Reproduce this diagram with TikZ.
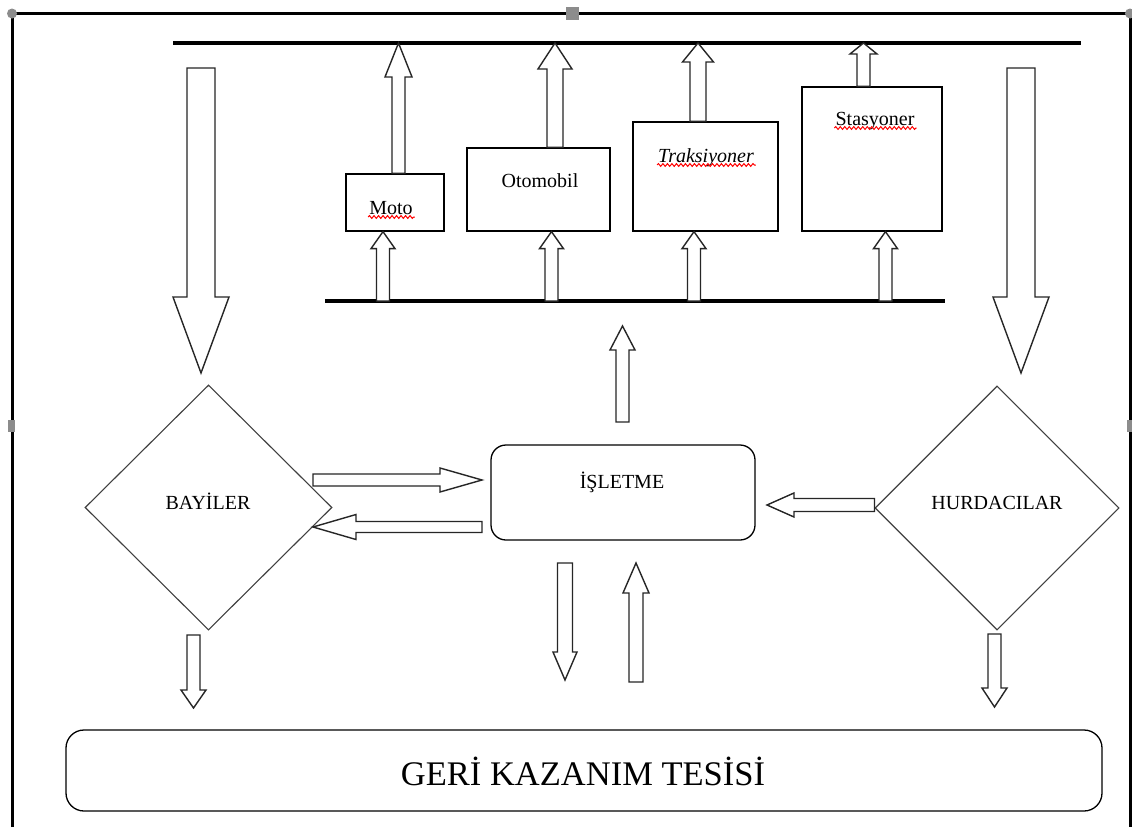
\documentclass[tikz,border=0pt]{standalone}
\usepackage{fontspec}
\setmainfont{Liberation Serif}
\usetikzlibrary{calc,shapes.geometric,decorations.pathmorphing}
\tikzset{
  frameline/.style={line width=3pt, black},
  barline/.style={line width=3.5pt, black},
  boxnode/.style={draw, rectangle, line width=1.3pt, inner sep=0pt},
  roundbox/.style={draw, rectangle, rounded corners=#1, line width=1.3pt, inner sep=0pt},
  diamondnode/.style={draw=black!75, diamond, line width=1.1pt, inner sep=0pt},
  lbl/.style={inner sep=0pt, anchor=base, font=\fontsize{20}{24}\selectfont},
  biglbl/.style={inner sep=0pt, anchor=base, font=\fontsize{34.5}{40}\selectfont},
  spell/.style={red, line width=1pt, decorate, decoration={snake, amplitude=1.4pt, segment length=4.5pt}},
  blockarrow/.style={draw=black!85, fill=white, line width=1.4pt, line join=miter},
  handle/.style={fill=black!45}
}
% #1 tail, #2 tip, #3 half shaft width, #4 half head width, #5 head length
\newcommand\blockarr[5]{%
  \coordinate (ba-h) at ($(#2)!#5!(#1)$);
  \draw[blockarrow] ($(#1)!#3!90:(#2)$) -- ($(ba-h)!#3!90:(#2)$) -- ($(ba-h)!#4!90:(#2)$) -- (#2)
     -- ($(ba-h)!#4!-90:(#2)$) -- ($(ba-h)!#3!-90:(#2)$) -- ($(#1)!#3!-90:(#2)$) -- cycle;
}
\begin{document}
\begin{tikzpicture}[x=1pt,y=-1pt]
\useasboundingbox (0,0) rectangle (1132,827);
\fill[white] (0,0) rectangle (1132,827);

% frame
\coordinate (fr-bl) at (12,827);
\coordinate (fr-tl) at (12,13.5);
\coordinate (fr-tr) at (1130,13.5);
\coordinate (fr-br) at (1130,827);
\draw[frameline] (fr-bl) -- (fr-tl) -- (fr-tr) -- (fr-br);
\fill[handle] (fr-tl) circle (5pt);
\fill[handle] (fr-tr) circle (5pt);
\fill[handle] (565.5,6.5) rectangle (578.5,19.5);
\fill[handle] (8,420) rectangle (15,432);
\fill[handle] (1127,420) rectangle (1134,432);

% bars
\coordinate (barT-l) at (173,43);
\coordinate (barT-r) at (1081,43);
\coordinate (barB-l) at (325,301);
\coordinate (barB-r) at (945,301);
\draw[barline] (barT-l) -- (barT-r);
\draw[barline] (barB-l) -- (barB-r);

% vehicle boxes
\node[boxnode, minimum width=98pt, minimum height=57pt] (moto) at (395,202.5) {};
\node[boxnode, minimum width=143pt, minimum height=83pt] (oto) at (538.5,189.5) {};
\node[boxnode, minimum width=145pt, minimum height=109pt] (trak) at (705.5,176.5) {};
\node[boxnode, minimum width=140pt, minimum height=144pt] (stas) at (872,159) {};

\node[lbl] (moto-t) at (391,214) {Moto};
\node[lbl] (oto-t) at (540,187) {Otomobil};
\node[lbl] (trak-t) at (706,162) {\itshape Traksiyoner};
\node[lbl] (stas-t) at (875,125) {Stasyoner};
\draw[spell] ([yshift=-3pt,xshift=-1pt]moto-t.base west) -- ([yshift=-3pt,xshift=2pt]moto-t.base east);
\draw[spell] ([yshift=-3pt,xshift=-1pt]trak-t.base west) -- ([yshift=-3pt,xshift=2pt]trak-t.base east);
\draw[spell] ([yshift=-3pt,xshift=-1pt]stas-t.base west) -- ([yshift=-3pt,xshift=2pt]stas-t.base east);

% central and side nodes
\node[roundbox=15pt, minimum width=264pt, minimum height=95pt] (isl) at (623,492.5) {};
\node[lbl] (isl-t) at (622,488) {İŞLETME};
\node[diamondnode, minimum width=247pt, minimum height=245pt] (bay) at (208.5,507.5) {};
\node[lbl] (bay-t) at (208,509) {BAYİLER};
\node[diamondnode, minimum width=244pt, minimum height=244pt] (hur) at (997,508) {};
\node[lbl] (hur-t) at (997,509) {HURDACILAR};
\node[roundbox=18pt, minimum width=1036pt, minimum height=81pt] (geri) at (584,770.5) {};
\node[biglbl] (geri-t) at (583,785) {GERİ KAZANIM TESİSİ};

% arrows: lower bar -> boxes
\coordinate (a1t) at ([xshift=-12pt]moto.south);   \coordinate (a1s) at (a1t |- barB-l);
\coordinate (a2t) at ([xshift=13pt]oto.south);     \coordinate (a2s) at (a2t |- barB-l);
\coordinate (a3t) at ([xshift=-11.5pt]trak.south); \coordinate (a3s) at (a3t |- barB-l);
\coordinate (a4t) at ([xshift=13.5pt]stas.south);  \coordinate (a4s) at (a4t |- barB-l);
\blockarr{a1s}{a1t}{6.5pt}{12pt}{17pt}
\blockarr{a2s}{a2t}{6.5pt}{12pt}{17pt}
\blockarr{a3s}{a3t}{6.5pt}{12pt}{17pt}
\blockarr{a4s}{a4t}{6.5pt}{12pt}{17pt}

% arrows: boxes -> top bar
\coordinate (b1s) at ([xshift=3.5pt]moto.north);  \coordinate (b1t) at (b1s |- barT-l);
\coordinate (b2s) at ([xshift=16.5pt]oto.north);  \coordinate (b2t) at (b2s |- barT-l);
\coordinate (b3s) at ([xshift=-7.5pt]trak.north); \coordinate (b3t) at (b3s |- barT-l);
\coordinate (b4s) at ([xshift=-8.5pt]stas.north); \coordinate (b4t) at (b4s |- barT-l);
\blockarr{b1s}{b1t}{6.5pt}{13.5pt}{34pt}
\blockarr{b2s}{b2t}{8pt}{17pt}{26pt}
\blockarr{b3s}{b3t}{8pt}{15.5pt}{19pt}
\blockarr{b4s}{b4t}{6.5pt}{13.5pt}{11pt}

% big side arrows
\coordinate (c1s) at (201,68);  \coordinate (c1t) at (201,373);
\coordinate (c2s) at (1021,68); \coordinate (c2t) at (1021,373);
\blockarr{c1s}{c1t}{14pt}{28pt}{76pt}
\blockarr{c2s}{c2t}{14pt}{28pt}{76pt}

% isletme arrows
\coordinate (d1s) at (622.5,422); \coordinate (d1t) at (622.5,326);
\blockarr{d1s}{d1t}{6.5pt}{12.5pt}{24pt}
\coordinate (d2s) at (565,563); \coordinate (d2t) at (565,680);
\blockarr{d2s}{d2t}{7.5pt}{12pt}{28pt}
\coordinate (d3s) at (636,682); \coordinate (d3t) at (636,563);
\blockarr{d3s}{d3t}{7pt}{13pt}{30pt}

% horizontal arrows
\coordinate (e1s) at (313,480); \coordinate (e1t) at (482,480);
\blockarr{e1s}{e1t}{6pt}{12pt}{42pt}
\coordinate (e2s) at (482,527); \coordinate (e2t) at (313,527);
\blockarr{e2s}{e2t}{5.5pt}{12.5pt}{43pt}
\coordinate (e3s) at ([yshift=3pt]hur.west); \coordinate (e3t) at (767,505);
\blockarr{e3s}{e3t}{6.5pt}{12pt}{27pt}

% small down arrows to recycling plant
\coordinate (f1s) at (193.5,635); \coordinate (f1t) at (193.5,708);
\blockarr{f1s}{f1t}{6.5pt}{12.5pt}{18pt}
\coordinate (f2s) at (994.5,634); \coordinate (f2t) at (994.5,707);
\blockarr{f2s}{f2t}{6.5pt}{12.5pt}{19pt}
\end{tikzpicture}
\end{document}
